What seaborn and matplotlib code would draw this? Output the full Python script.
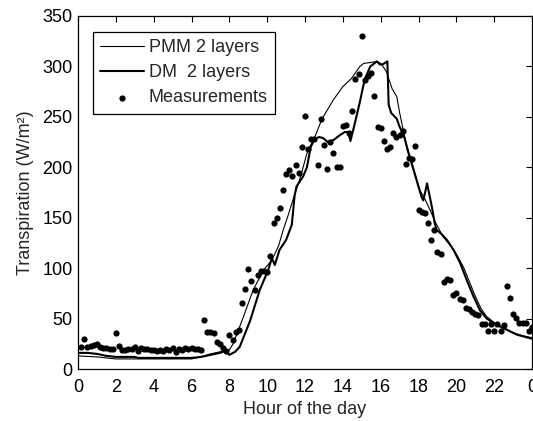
import numpy as np
import pandas as pd
import matplotlib
matplotlib.use("Agg")
import matplotlib.pyplot as plt
import seaborn as sns

# PMM 2 layers model (thin line)
pmm_hours = [0, 1, 2, 3, 4, 5, 6, 6.5, 7, 7.5, 8, 8.2, 8.75, 9.25, 9.8,
             10.25, 10.6, 10.85, 11.1, 11.4, 11.75, 12.15, 12.45, 12.9, 13.5,
             14.0, 14.45, 14.9, 15.1, 15.5, 15.8, 16.0, 16.3, 16.6, 16.85,
             17.0, 17.2, 17.4, 17.7, 18.05, 18.35, 18.6, 18.9, 19.3, 19.7,
             20.0, 20.4, 20.7, 21.0, 21.3, 21.6, 22.0, 22.5, 23.0, 23.5, 24]
pmm_vals = [13, 12, 10, 10, 10, 10, 10, 12, 15, 17, 19, 25, 52, 78, 98,
            108, 122, 138, 152, 170, 190, 217, 227, 248, 267,
            280, 288, 300, 303, 304, 305, 303, 295, 278, 270,
            254, 236, 217, 201, 178, 168, 158, 145, 131, 122,
            114, 100, 86, 72, 60, 52, 46, 41, 36, 33, 31]

# DM 2 layers model (thick line)
dm_hours = [0, 0.5, 1, 1.5, 2, 3, 3.2, 4, 5, 6, 6.5, 7, 7.5, 7.8, 8.0,
            8.3, 8.55, 9.1, 9.6, 10.05, 10.25, 10.4, 10.65, 11.0, 11.3,
            11.45, 11.55, 11.9, 12.1, 12.3, 12.5, 12.75, 12.95, 13.2, 13.5,
            13.85, 14.1, 14.28, 14.4, 14.65, 14.9, 15.15, 15.45, 15.8, 15.95,
            16.1, 16.35, 16.42, 16.55, 16.85, 17.0, 17.2, 17.55, 17.9, 18.15,
            18.25, 18.45, 18.7, 18.85, 18.95, 19.2, 19.5, 19.85, 20.2, 20.55,
            20.9, 21.25, 21.6, 22.1, 22.65, 23.2, 23.9, 24]
dm_vals = [16, 16, 15, 13, 12, 12, 11, 11, 11, 11, 12, 14, 16, 18, 14,
           17, 22, 48, 78, 98, 110, 103, 118, 128, 143,
           172, 181, 191, 200, 220, 228, 230, 229, 225, 227,
           232, 235, 235, 226, 245, 265, 287, 300, 305, 302,
           302, 305, 262, 254, 248, 240, 233, 209, 187, 171,
           167, 184, 161, 145, 138, 134, 128, 118, 105, 88,
           72, 58, 50, 44, 39, 34, 30.5, 30]

# measurements every 10 minutes
meas_hours = np.arange(1, 145) / 6
meas_vals = [22, 30, 22, 23, 24, 25, 22, 21, 21, 20, 20, 36,
             23, 19, 19, 20, 20, 22, 18, 21, 20, 20, 19, 19,
             18, 19, 18, 20, 19, 21, 17, 20, 19, 21, 20, 21,
             20, 20, 19, 49, 37, 37, 36, 27, 25, 21, 18, 34,
             29, 37, 39, 65, 79, 99, 87, 78, 93, 97, 97, 96,
             112, 145, 150, 160, 177, 193, 197, 191, 202, 194, 220, 251,
             218, 228, 228, 202, 248, 222, 198, 225, 214, 200, 200, 241,
             242, 234, 256, 288, 292, 330, 287, 291, 293, 271, 240, 239,
             226, 218, 220, 234, 230, 232, 236, 203, 209, 208, 221, 158,
             156, 155, 145, 128, 138, 116, 114, 86, 89, 88, 73, 75,
             69, 68, 60, 59, 57, 55, 54, 45, 45, 38, 45, 38,
             45, 38, 44, 82, 70, 55, 51, 46, 46, 46, 38, 42]

x_ticks = list(range(0, 25, 2))
x_labels = ['0', '2', '4', '6', '8', '10', '12', '14', '16', '18', '20', '22', '0']

sns.set_style("white")
plt.rcParams['font.family'] = ['Liberation Sans', 'DejaVu Sans']

fig = plt.figure(figsize=(5.33, 4.21), dpi=100)
ax = fig.add_axes([0.1463, 0.1235, 0.852, 0.8385])

pmm = pd.DataFrame({'hour': pmm_hours, 'val': pmm_vals})
dm = pd.DataFrame({'hour': dm_hours, 'val': dm_vals})
meas = pd.DataFrame({'hour': meas_hours, 'val': meas_vals})

sns.lineplot(data=pmm, x='hour', y='val', ax=ax, color='black', linewidth=0.8,
             label='PMM 2 layers', estimator=None, sort=False)
sns.lineplot(data=dm, x='hour', y='val', ax=ax, color='black', linewidth=1.5,
             label='DM  2 layers', estimator=None, sort=False)
sns.scatterplot(data=meas, x='hour', y='val', ax=ax, color='black', s=20,
                linewidth=0, label='Measurements')

ax.set_xlim(0, 24)
ax.set_ylim(0, 350)
ax.set_xticks(x_ticks)
ax.set_xticklabels(x_labels)
ax.set_yticks(range(0, 351, 50))
ax.tick_params(direction='in', top=True, right=True, length=4, width=0.8,
               labelsize=13, colors='black')
ax.tick_params(axis='x', pad=7)
ax.tick_params(axis='y', pad=4)
for sp in ax.spines.values():
    sp.set_color('black')
    sp.set_linewidth(0.9)

ax.set_xlabel('Hour of the day', fontsize=13, labelpad=4)
ax.set_ylabel('Transpiration (W/m²)', fontsize=13, labelpad=6)

leg = ax.legend(loc='upper left', bbox_to_anchor=(0.033, 0.955), borderaxespad=0,
                fontsize=13, frameon=True, fancybox=False, framealpha=1,
                edgecolor='black', handlelength=2.4, handletextpad=0.3,
                borderpad=0.4, labelspacing=0.45)
leg.get_frame().set_linewidth(0.9)

fig.savefig('out.png', dpi=100)
